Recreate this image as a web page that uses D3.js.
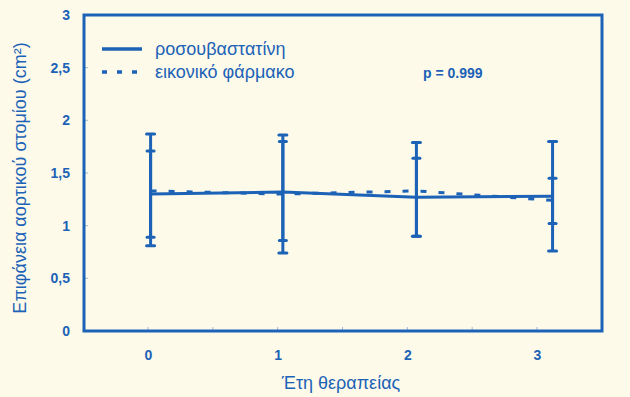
<!DOCTYPE html>
<html><head><meta charset="utf-8">
<script src="https://cdn.jsdelivr.net/npm/d3@7"></script>
<style>body{margin:0;background:#fdfaea;}svg{display:block;}</style>
</head><body>
<svg id="c" width="630" height="397"></svg>
<script>
const years = [0, 1, 2, 3];
const yTicks = [0, 0.5, 1, 1.5, 2, 2.5, 3];
const yTickLabels = ["0", "0,5", "1", "1,5", "2", "2,5", "3"];
const xPos = [0.02, 1.04, 2.07, 3.12];
const rosuvaMean = [1.30, 1.32, 1.27, 1.28];
const rosuvaUpper = [1.87, 1.86, 1.79, 1.80];
const rosuvaLower = [0.81, 0.74, 0.90, 0.76];
const placeboMean = [1.33, 1.30, 1.33, 1.24];
const placeboUpper = [1.71, 1.80, 1.64, 1.45];
const placeboLower = [0.89, 0.86, 0.90, 1.02];
const seriesNames = ["ροσουβαστατίνη", "εικονικό φάρμακο"];

const blue = "#1c62b6";
const svg = d3.select("#c");
const L = 84, R = 602, T = 15, B = 331;
const x = d3.scaleLinear().domain([0, 3]).range([148, 537]);
const y = d3.scaleLinear().domain([0, 3]).range([B, T]);

svg.append("rect").attr("width", 630).attr("height", 397).attr("fill", "#fdfaea");

// frame
svg.append("rect").attr("x", L).attr("y", T).attr("width", R - L).attr("height", B - T)
  .attr("fill", "none").attr("stroke", blue).attr("stroke-width", 3);

// y axis
const ya = svg.append("g").attr("transform", `translate(${L},0)`)
  .call(d3.axisLeft(y).tickValues(yTicks).tickFormat((d, i) => yTickLabels[i]).tickSize(0).tickPadding(14));
ya.select(".domain").remove();
ya.selectAll("text").attr("fill", blue).attr("font-family", "Liberation Sans, Arial").attr("font-weight", "bold").attr("font-size", 14);
svg.selectAll(".yt").data(yTicks.slice(1, -1)).enter().append("line")
  .attr("x1", L).attr("x2", L + 4).attr("y1", d => y(d)).attr("y2", d => y(d))
  .attr("stroke", blue).attr("stroke-width", 1).attr("opacity", 0.4);

// x axis
const xa = svg.append("g").attr("transform", `translate(0,${B})`)
  .call(d3.axisBottom(x).tickValues(years).tickFormat(d3.format("d")).tickSize(0).tickPadding(19));
xa.select(".domain").remove();
xa.selectAll("text").attr("fill", blue).attr("font-family", "Liberation Sans, Arial").attr("font-weight", "bold").attr("font-size", 14);
svg.selectAll(".xt").data(d3.range(0, 3.01, 0.5)).enter().append("line")
  .attr("x1", d => x(d)).attr("x2", d => x(d)).attr("y1", B).attr("y2", B - 4)
  .attr("stroke", blue).attr("stroke-width", 1).attr("opacity", 0.4);

// labels
svg.append("text").attr("x", 341).attr("y", 389).attr("text-anchor", "middle")
  .attr("fill", blue).attr("font-family", "Liberation Sans, Arial").attr("font-size", 18).text("Έτη θεραπείας");
svg.append("text").attr("transform", "translate(26,178) rotate(-90)").attr("text-anchor", "middle")
  .attr("fill", blue).attr("font-family", "Liberation Sans, Arial").attr("font-size", 18)
  .text("Επιφάνεια αορτικού στομίου (cm²)");
svg.append("text").attr("x", 423).attr("y", 78).attr("fill", blue)
  .attr("font-family", "Liberation Sans, Arial").attr("font-weight", "bold").attr("font-size", 14).text("p = 0.999");

// error bars
function errBars(upper, lower, capW) {
  const g = svg.append("g");
  xPos.forEach((xv, i) => {
    g.append("line").attr("x1", x(xv)).attr("x2", x(xv)).attr("y1", y(upper[i])).attr("y2", y(lower[i]))
      .attr("stroke", blue).attr("stroke-width", 3);
    [upper[i], lower[i]].forEach(v => g.append("line")
      .attr("x1", x(xv) - capW).attr("x2", x(xv) + capW).attr("y1", y(v)).attr("y2", y(v))
      .attr("stroke", blue).attr("stroke-width", 3).attr("stroke-linecap", "round"));
  });
}
errBars(rosuvaUpper, rosuvaLower, 4);
errBars(placeboUpper, placeboLower, 3.5);

const line = d3.line().x((d, i) => x(xPos[i])).y(d => y(d));
svg.append("path").datum(placeboMean).attr("d", line).attr("fill", "none")
  .attr("stroke", blue).attr("stroke-width", 3).attr("stroke-dasharray", "6,12");
svg.append("path").datum(rosuvaMean).attr("d", line).attr("fill", "none")
  .attr("stroke", blue).attr("stroke-width", 3);

// legend
const lg = svg.append("g");
lg.append("line").attr("x1", 102).attr("x2", 142).attr("y1", 49).attr("y2", 49)
  .attr("stroke", blue).attr("stroke-width", 3.5);
lg.append("line").attr("x1", 102).attr("x2", 142).attr("y1", 72).attr("y2", 72)
  .attr("stroke", blue).attr("stroke-width", 3.5).attr("stroke-dasharray", "5,10");
seriesNames.forEach((n, i) => lg.append("text").attr("x", 155).attr("y", 55 + i * 23)
  .attr("fill", blue).attr("font-family", "Liberation Sans, Arial").attr("font-size", 18).text(n));
</script>
</body></html>
